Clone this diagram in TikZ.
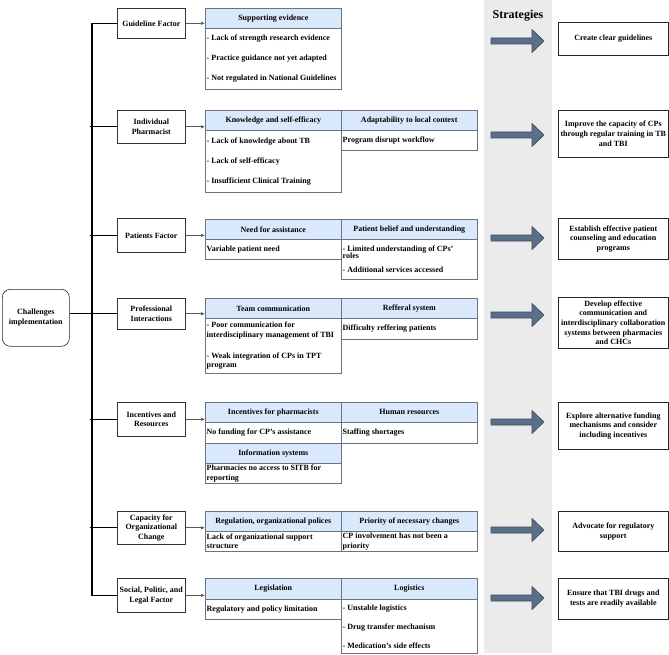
\documentclass[tikz,border=0pt]{standalone}
\usepackage{fontspec}
\setmainfont{Liberation Serif}
\usetikzlibrary{arrows.meta,calc}
\definecolor{hdrc}{HTML}{DAE8FC}
\definecolor{bordc}{RGB}{105,115,130}
\definecolor{bandc}{HTML}{EBEBEB}
\definecolor{arrfill}{RGB}{92,111,136}
\definecolor{arrdraw}{RGB}{62,76,96}
\newcommand\bbox[5]{\node[bdy, minimum height=#4pt] (#1) at (#2,#3) {};
  \node[btxt] (#1t) at (#1.west) {#5};}
\newcommand\blockarr[1]{\draw[barrow] (491,#1-3) -- (532,#1-3) -- (532,#1-11.5) -- (544,#1) -- (532,#1+11.5) -- (532,#1+3) -- (491,#1+3) -- cycle;}
\begin{document}
\begin{tikzpicture}[x=1pt,y=-1pt,
 every node/.style={font=\fontsize{8}{9.7}\selectfont\bfseries, inner sep=0pt},
 lvl/.style={draw=black!80, line width=0.6pt, fill=white, align=center, minimum width=68pt, anchor=north west},
 hdr/.style={draw=bordc, line width=0.6pt, fill=hdrc, anchor=north west, minimum width=136pt},
 bdy/.style={draw=bordc, line width=0.6pt, fill=white, anchor=north west, minimum width=136pt},
 btxt/.style={anchor=west, align=left, inner xsep=1.5pt},
 strat/.style={draw=black!85, line width=0.6pt, align=center, minimum width=110pt, anchor=north west},
 trunk/.style={line width=1.1pt, black},
 link/.style={draw=black!65, line width=0.7pt, -{Latex[length=4pt,width=3.5pt]}},
 barrow/.style={fill=arrfill, draw=arrdraw, line width=0.6pt}]
\useasboundingbox (0,0) rectangle (669,655);

% strategies band
\fill[bandc] (484,0) rectangle (552,653);
\node[font=\fontsize{12}{14}\selectfont\bfseries] (st) at (518,16) {Strategies};

% root
\node[draw=black!85, line width=0.6pt, rounded corners=8pt, minimum width=67pt, minimum height=57pt, anchor=north west, align=center] (ch) at (2,289) {Challenges\\implementation};

% level 1
\node[lvl, minimum height=30pt] (g) at (117,8) {Guideline Factor};
\node[lvl, minimum height=33pt] (i) at (117,110) {Individual\\Pharmacist};
\node[lvl, minimum height=34pt] (p) at (117,218) {Patients Factor};
\node[lvl, minimum height=31pt] (pr) at (117,298) {Professional\\Interactions};
\node[lvl, minimum height=34pt] (inc) at (117,402) {Incentives and\\Resources};
\node[lvl, minimum height=33pt] (cap) at (117,511) {Capacity for\\Organizational\\Change};
\node[lvl, minimum height=34pt] (soc) at (117,578) {Social, Politic, and\\Legal Factor};

% trunk
\coordinate (tx) at (92,0);
\coordinate (tk) at (89.5,0);
\draw[trunk] (g.west) -- (g.west -| tx) -- (soc.west -| tx) -- (soc.west);
\foreach \n in {i,p,pr,inc,cap} \draw[trunk] (\n.west -| tk) -- (\n.west);
\draw[trunk] (ch.east |- pr.west) -- (pr.west -| tx);

% guideline
\node[hdr, minimum height=20pt] (h1) at (205,8) {Supporting evidence};
\bbox{b1}{205}{28}{61}{- Lack of strength research evidence\\[10.3pt]- Practice guidance not yet adapted\\[10.3pt]- Not regulated in National Guidelines}

% individual
\node[hdr, minimum height=20pt] (h2a) at (205,110) {Knowledge and self-efficacy};
\bbox{b2a}{205}{130}{62}{- Lack of knowledge about TB\\[10.3pt]- Lack of self-efficacy\\[10.3pt]- Insufficient Clinical Training}
\node[hdr, minimum height=20pt] (h2b) at (341,110) {Adaptability to local context};
\bbox{b2b}{341}{130}{20}{Program disrupt workflow}

% patients
\node[hdr, minimum height=20pt] (h3a) at (205,219) {Need for assistance};
\bbox{b3a}{205}{239}{20}{Variable patient need}
\node[hdr, minimum height=20pt] (h3b) at (341,219) {Patient belief and understanding};
\bbox{b3b}{341}{239}{40}{- Limited understanding of CPs'\\[-2pt]roles\\[4.3pt]- Additional services accessed}

% professional
\node[hdr, minimum height=20pt] (h4a) at (205,298) {Team communication};
\bbox{b4a}{205}{318}{55}{- Poor communication for\\interdisciplinary management of TBI\\[11pt]- Weak integration of CPs in TPT\\program}
\node[hdr, minimum height=20pt] (h4b) at (341,298) {Refferal system};
\bbox{b4b}{341}{318}{21}{Difficulty reffering patients}

% incentives
\node[hdr, minimum height=20pt] (h5a) at (205,402) {Incentives for pharmacists};
\bbox{b5a}{205}{422}{21}{No funding for CP's assistance}
\node[hdr, minimum height=20pt] (h5c) at (205,443) {Information systems};
\bbox{b5c}{205}{463}{20}{Pharmacies no access to SITB for\\reporting}
\node[hdr, minimum height=20pt] (h5b) at (341,402) {Human resources};
\bbox{b5b}{341}{422}{21}{Staffing shortages}

% capacity
\node[hdr, minimum height=20pt] (h6a) at (205,511) {Regulation, organizational polices};
\bbox{b6a}{205}{531}{20}{Lack of organizational support\\structure}
\node[hdr, minimum height=20pt] (h6b) at (341,511) {Priority of necessary changes};
\bbox{b6b}{341}{531}{20}{CP involvement has not been a\\priority}

% social
\node[hdr, minimum height=21pt] (h7a) at (205,578) {Legislation};
\bbox{b7a}{205}{599}{20}{Regulatory and policy limitation}
\node[hdr, minimum height=21pt] (h7b) at (341,578) {Logistics};
\bbox{b7b}{341}{599}{54}{- Unstable logistics\\[9.3pt]- Drug transfer mechanism\\[9.3pt]- Medication's side effects}

% links
\draw[link] (g.east) -- (g.east -| h1.west);
\draw[link] (i.east) -- (i.east -| h2a.west);
\draw[link] (p.east) -- (p.east -| h3a.west);
\draw[link] (pr.east) -- (pr.east -| h4a.west);
\draw[link] (inc.east) -- (inc.east -| h5a.west);
\draw[link] (cap.east) -- (cap.east -| h6a.west);
\draw[link] (soc.east) -- (soc.east -| h7a.west);

% block arrows
\foreach \yy in {41,135,238,315,422,530,598} {\blockarr{\yy}}

% strategies
\node[strat, minimum height=33pt] (s1) at (558,22) {Create clear guidelines};
\node[strat, minimum height=47pt] (s2) at (558,110) {Improve the capacity of CPs\\through regular training in TB\\and TBI};
\node[strat, minimum height=41pt] (s3) at (558,218) {Establish effective patient\\counseling and education\\programs};
\node[strat, minimum height=51pt] (s4) at (558,297) {Develop effective\\communication and\\interdisciplinary collaboration\\systems between pharmacies\\and CHCs};
\node[strat, minimum height=47pt] (s5) at (558,402) {Explore alternative funding\\mechanisms and consider\\including incentives};
\node[strat, minimum height=40pt] (s6) at (558,511) {Advocate for regulatory\\support};
\node[strat, minimum height=41pt] (s7) at (558,578) {Ensure that TBI drugs and\\tests are readily available};
\end{tikzpicture}
\end{document}
